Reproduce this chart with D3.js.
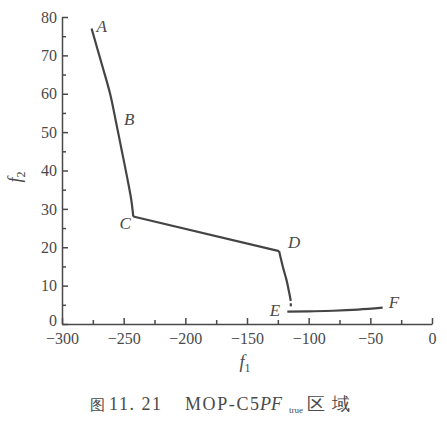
<!DOCTYPE html>
<html>
<head>
<meta charset="utf-8">
<script src="https://cdn.jsdelivr.net/npm/d3@7"></script>
<style>
  body { margin: 0; background: #fff; }
  svg text { font-family: 'Liberation Serif', 'Times New Roman', serif; fill: #4a4a4a; }
</style>
</head>
<body>
<svg id="chart"></svg>
<script>
// front pieces, A -> C -> D -> E -> F
const segAC_f1 = [-276, -268, -261, -256, -251.6, -247.3, -243.8, -242.2]
const segAC_f2 = [77, 68, 60, 52.3, 45.3, 38.4, 32.3, 28]
const segCD_f1 = [-242.2, -124]
const segCD_f2 = [28, 19]
const segDE_f1 = [-124, -121, -118, -115.8, -114.5]
const segDE_f2 = [19, 15, 11.5, 8.2, 6]
const segDot_f1 = [-114.5, -114.5]
const segDot_f2 = [5.4, 4.6]
const segEF_f1 = [-117.3, -100, -80, -60, -40]
const segEF_f2 = [3.2, 3.3, 3.45, 3.75, 4.25]

const pointNames = ['A', 'B', 'C', 'D', 'E', 'F']
const pointF1 = [-276, -257, -242, -124, -117, -40]
const pointF2 = [77, 54, 28, 19, 3.2, 4.2]

const xTicks = [-300, -250, -200, -150, -100, -50, 0]
const yTicks = [0, 10, 20, 30, 40, 50, 60, 70, 80]

const width = 447
const height = 423
const margin = { left: 62, right: 15, top: 17, bottom: 99 }

const svg = d3.select('#chart').attr('width', width).attr('height', height)

const x = d3.scaleLinear().domain([-300, 0]).range([margin.left, width - margin.right])
const y = d3.scaleLinear().domain([0, 80]).range([height - margin.bottom, margin.top])

const axisColor = '#4a4a4a'

// minor ticks
svg.append('g')
  .attr('transform', `translate(0, ${y(0)})`)
  .call(d3.axisBottom(x).tickValues(d3.range(-275, 0, 50)).tickSize(-4).tickFormat('').tickSizeOuter(0))
  .call(g => g.select('.domain').remove())
svg.append('g')
  .attr('transform', `translate(${x(-300)}, 0)`)
  .call(d3.axisLeft(y).tickValues(d3.range(5, 80, 10)).tickSize(-4).tickFormat('').tickSizeOuter(0))
  .call(g => g.select('.domain').remove())

// x axis
svg.append('g')
  .attr('transform', `translate(0, ${y(0)})`)
  .call(d3.axisBottom(x).tickValues(xTicks).tickSize(-6).tickSizeOuter(0).tickPadding(7))
  .call(g => g.selectAll('text').attr('font-size', 16).attr('dy', '0.8em'))

// y axis
svg.append('g')
  .attr('transform', `translate(${x(-300)}, 0)`)
  .call(d3.axisLeft(y).tickValues(yTicks).tickSize(-6).tickSizeOuter(0).tickPadding(5))
  .call(g => g.selectAll('text').attr('font-size', 16))
  .call(g => g.selectAll('.tick').filter(d => d === 0).select('text').attr('dy', '0.1em'))

svg.selectAll('.domain, .tick line')
  .attr('stroke', axisColor)
  .attr('stroke-width', 1.5)
svg.selectAll('.tick text').style('fill', '#4a4a4a').attr('font-family', 'Liberation Serif')

// curves
const curveY = d3.line().x(d => x(d[0])).y(d => y(d[1])).curve(d3.curveCatmullRom)
const lineX = d3.line().x(d => x(d[0])).y(d => y(d[1])).curve(d3.curveMonotoneX)
const pieces = [
  [segAC_f1, segAC_f2, curveY],
  [segCD_f1, segCD_f2, lineX],
  [segDE_f1, segDE_f2, curveY],
  [segDot_f1, segDot_f2, lineX],
  [segEF_f1, segEF_f2, lineX],
]
pieces.forEach(([a, b, gen]) => {
  svg.append('path')
    .datum(a.map((v, i) => [v, b[i]]))
    .attr('d', gen)
    .attr('fill', 'none')
    .attr('stroke', '#444')
    .attr('stroke-width', 2.2)
})

// point labels
const labelOffset = [[5, 3], [9, 8], [-14, 12], [9, -3], [-18, 4], [6, 0]]
svg.selectAll('.pt')
  .data(pointNames)
  .join('text')
  .attr('class', 'pt')
  .attr('x', (d, i) => x(pointF1[i]) + labelOffset[i][0])
  .attr('y', (d, i) => y(pointF2[i]) + labelOffset[i][1])
  .attr('font-size', 17)
  .attr('font-style', 'italic')
  .text(d => d)

// axis titles
const f2 = svg.append('text')
  .attr('transform', `translate(21, 177) rotate(-90)`)
  .attr('text-anchor', 'middle')
  .attr('font-size', 18)
f2.append('tspan').attr('font-style', 'italic').text('f')
f2.append('tspan').attr('font-size', 12).attr('dy', 4).text('2')

const f1 = svg.append('text')
  .attr('x', 245)
  .attr('y', 368)
  .attr('text-anchor', 'middle')
  .attr('font-size', 18)
f1.append('tspan').attr('font-style', 'italic').text('f')
f1.append('tspan').attr('font-size', 12).attr('dy', 4).text('1')

// caption
const cap = svg.append('g').attr('font-size', 18)
cap.append('text').attr('x', 90).attr('y', 410).attr('font-size', 15).attr('font-family', 'Noto Sans CJK SC').text('图')
cap.append('text').attr('x', 109).attr('y', 410).attr('textLength', 52).attr('lengthAdjust', 'spacing').text('11. 21')
cap.append('text').attr('x', 185).attr('y', 410).attr('textLength', 74).attr('lengthAdjust', 'spacing').text('MOP-C5')
cap.append('text').attr('x', 260).attr('y', 410).attr('font-style', 'italic').text('PF')
cap.append('text').attr('x', 289).attr('y', 413).attr('font-size', 9).text('true')
cap.append('text').attr('x', 307).attr('y', 410).attr('font-family', 'Noto Sans CJK SC').attr('textLength', 43).attr('lengthAdjust', 'spacing').text('区域')
</script>
</body>
</html>
